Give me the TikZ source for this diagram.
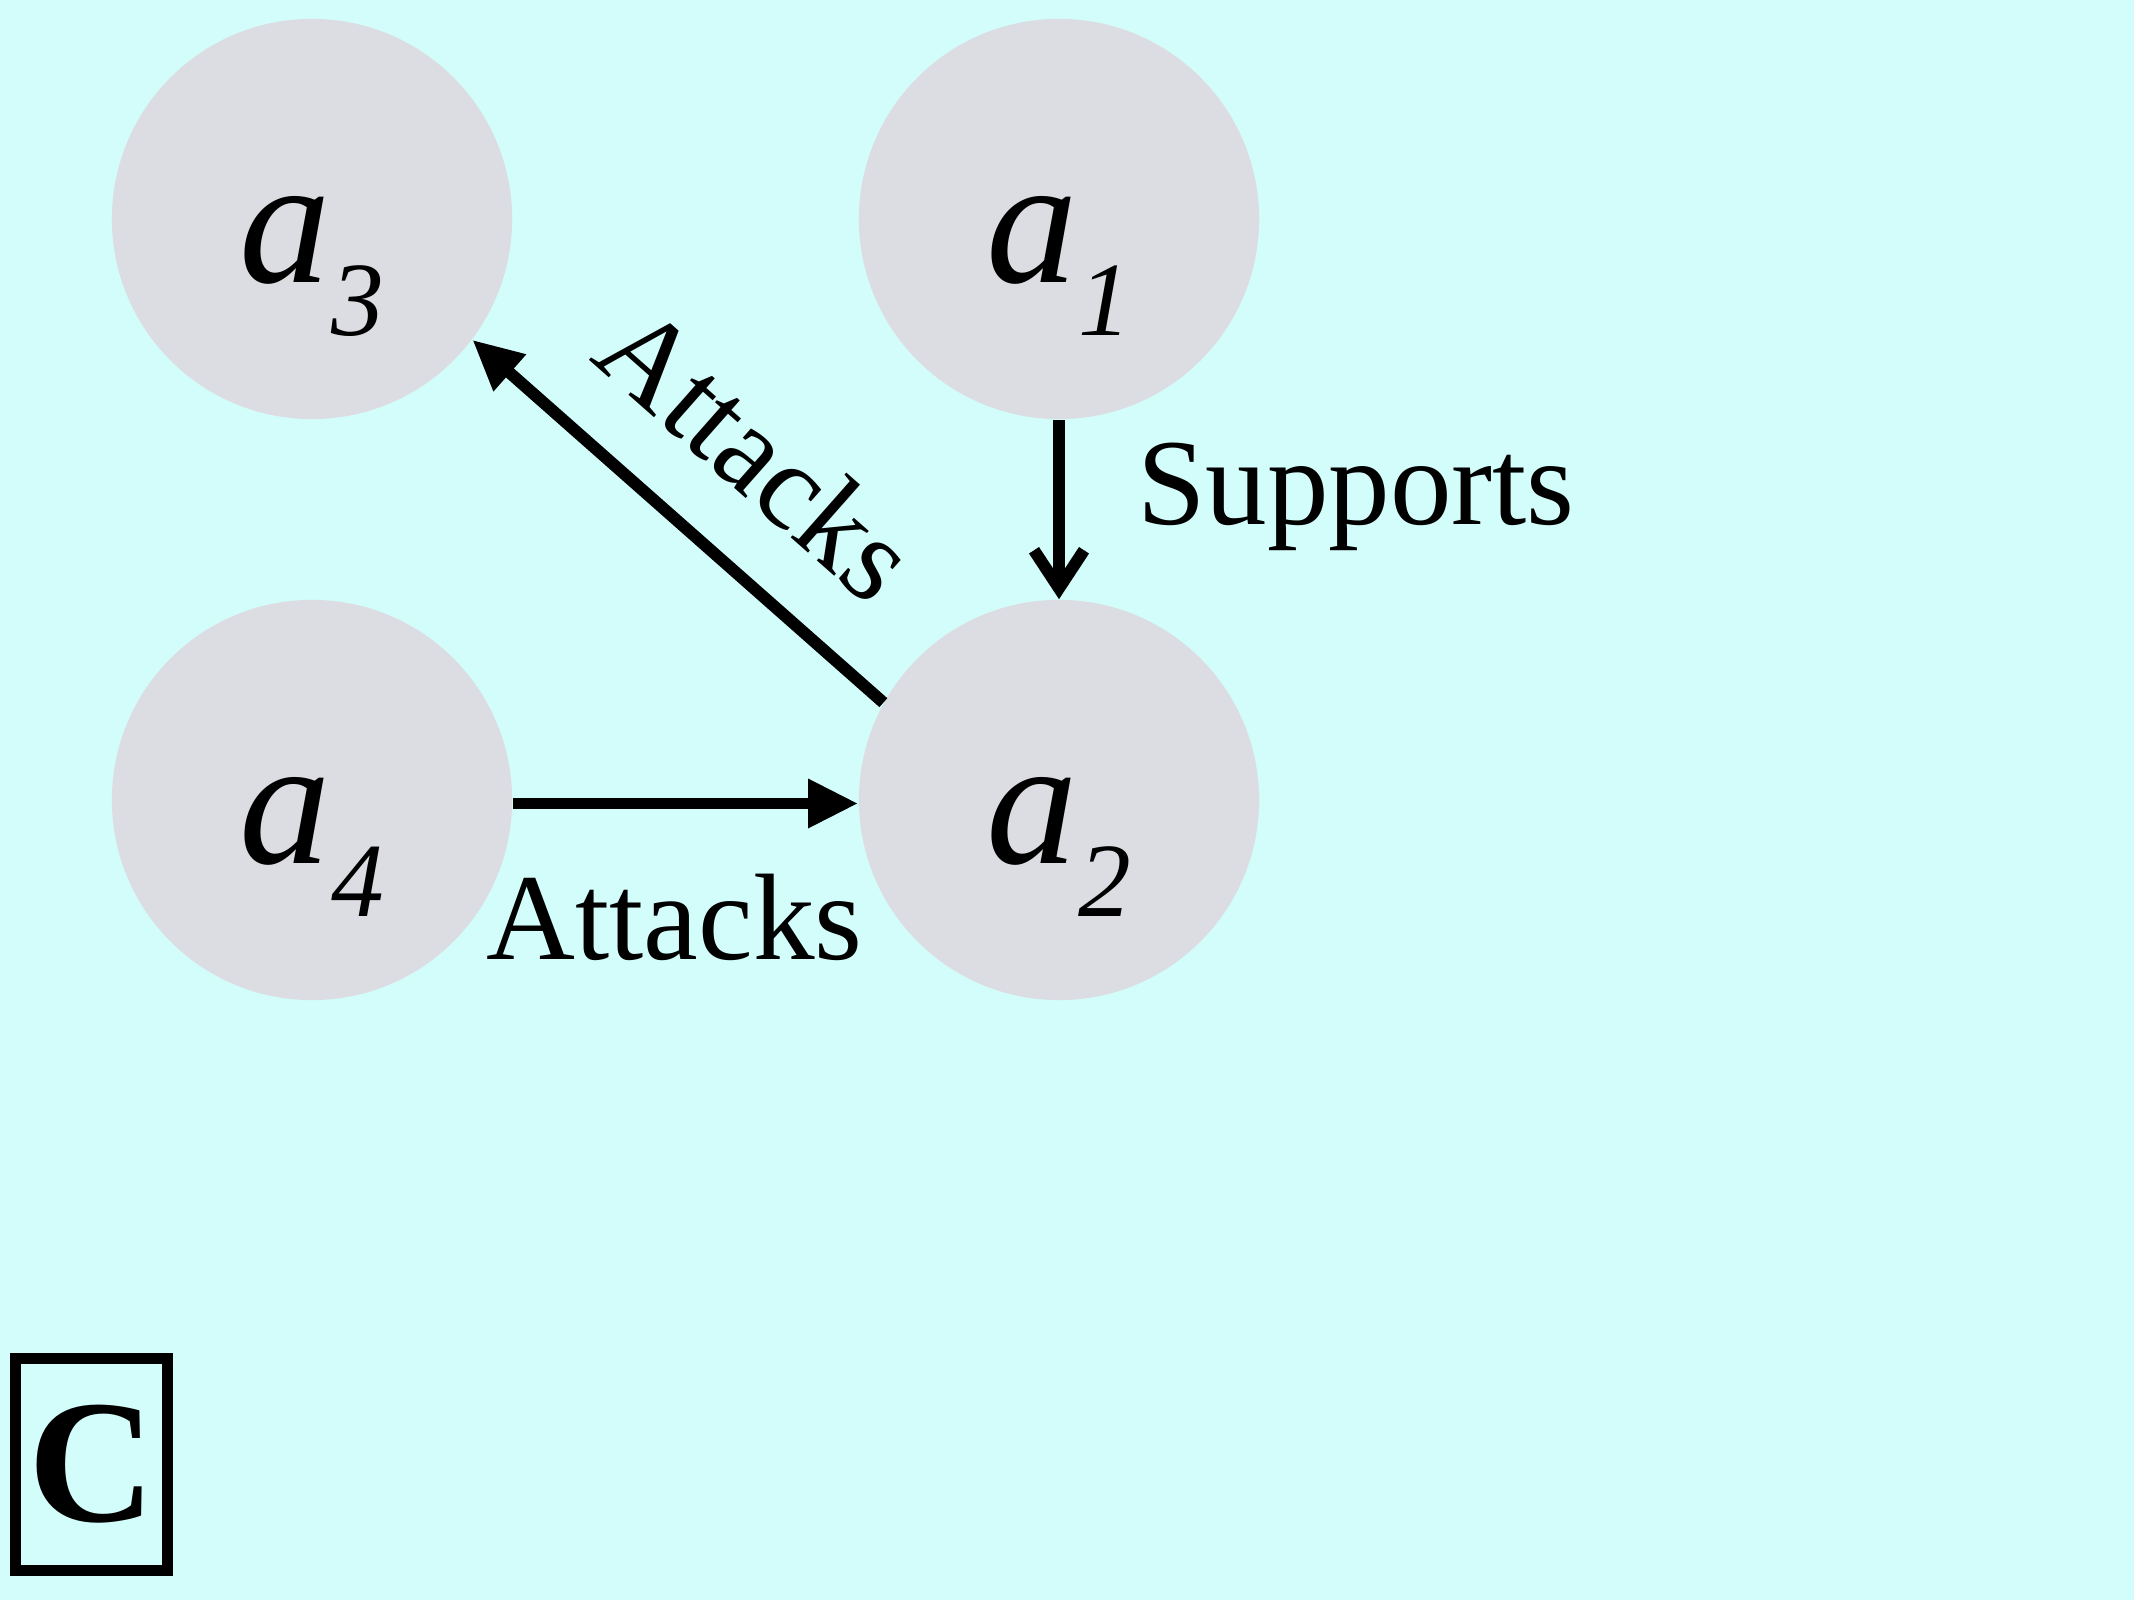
\documentclass[tikz,border=0pt]{standalone}
\usepackage{fontspec}
\setmainfont{Liberation Serif}
\usetikzlibrary{arrows.meta}
\definecolor{bgcyan}{RGB}{211,253,250}
\definecolor{nodegray}{RGB}{220,221,226}
\newcommand{\argname}[1]{\textit{a}\raisebox{-0.53cm}{\fontsize{30}{30}\selectfont\textit{#1}}}
\tikzset{argmap/.style={x=0.01cm,y=0.01cm,font=\fontsize{35}{35}\selectfont},
  argnode/.style={circle,fill=nodegray,minimum size=4cm,inner sep=0pt},
  argtext/.style={anchor=base,inner sep=0pt,font=\fontsize{52}{52}\selectfont},
  rel/.style={line width=3.4pt},
  attack/.style={rel,-{Triangle[length=0.5cm,width=0.46cm]}},
  support/.style={rel,-{Straight Barb[length=0.38cm,width=0.5cm]}},
  rellabel/.style={inner sep=0pt}}

\begin{document}
\begin{tikzpicture}[argmap]
    \fill[bgcyan] (0,0) rectangle (2134,1600);
    \node[argnode] (a3) at (312,1381) {};
    \node[argnode] (a1) at (1059,1381) {};
    \node[argnode] (a4) at (312,800) {};
    \node[argnode] (a2) at (1059,800) {};
    \foreach \n in {1,...,4} \node[argtext] (t\n) at ([yshift=-0.63cm]a\n.center) {\argname{\n}};
    \draw[support] (a1) -- (a2) node[midway,right=0.72cm,yshift=0.13cm,rellabel] (l12) {Supports};
    \draw[attack] (a2.151) -- (a3.-37) node[pos=0.475,sloped,above=0.55cm,rellabel] (l23) {Attacks};
    \draw[attack] (a4.-1) -- (a2.181) node[midway,below=0.65cm,xshift=-0.11cm,rellabel] (l42) {Attacks};
    \node[draw,line width=0.11cm,minimum width=1.52cm,minimum height=2.12cm,inner sep=0pt,
      font=\fontsize{50}{50}\selectfont\bfseries] (tag) at (91.5,135.5) {C};
\end{tikzpicture}
\end{document}
